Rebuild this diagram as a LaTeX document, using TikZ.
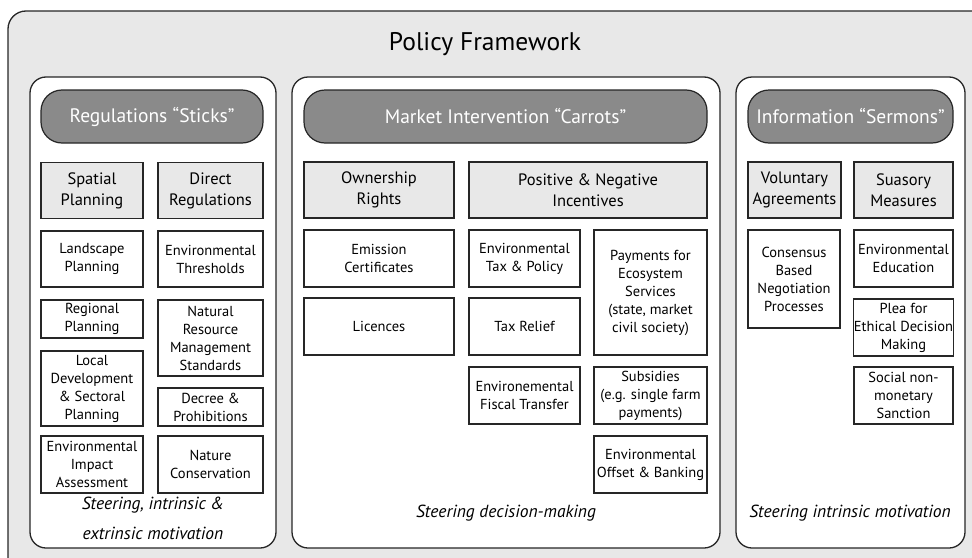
\documentclass[tikz,border=0pt]{standalone}
\usepackage{fontspec}
\setmainfont{PT Sans}

\tikzset{
  outer/.style={draw=black!85,line width=1.3pt,fill=black!9,rounded corners=18pt},
  panel/.style={draw=black!85,line width=1.3pt,fill=white,rounded corners=16pt},
  head/.style={draw=black!85,line width=1.2pt,fill=black!46,rounded corners=21pt,
    text=white,font=\fontsize{19.5}{22}\selectfont,minimum height=53pt,inner sep=0pt},
  sub/.style={draw=black!85,line width=1.1pt,fill=black!9,align=center,
    font=\fontsize{16.5}{21}\selectfont,inner sep=0pt,minimum height=56pt},
  leaf/.style={draw=black!85,line width=1.1pt,fill=white,align=center,
    font=\fontsize{14.5}{18}\selectfont,inner sep=0pt},
  note/.style={align=center,font=\itshape\fontsize{17.5}{30}\selectfont}
}

\begin{document}
\begin{tikzpicture}[x=1pt,y=-1pt]
\useasboundingbox (0,0) rectangle (972,557);
\clip (0,0) rectangle (972,557);
% frame and panels
\draw[outer] (8,11) rectangle (990,580);
\node[font=\fontsize{25.5}{30}\selectfont] (title) at (485,44) {Policy Framework};
\draw[panel] (30,77) rectangle (276,548);
\draw[panel] (292,77) rectangle (720,548);
\draw[panel] (736,77) rectangle (965,548);

% sticks
\node[head,minimum width=222pt] (sticks) at (152,116.5) {Regulations “Sticks”};
\node[sub,minimum width=102pt] (spatial) at (92,190.5) {Spatial\\Planning};
\node[sub,minimum width=105pt] (direct) at (210.5,190.5) {Direct\\Regulations};
\node[leaf,minimum width=102pt,minimum height=56pt] (landscape) at (92,259) {Landscape\\Planning};
\node[leaf,minimum width=102pt,minimum height=38pt] (regional) at (92,319) {Regional\\Planning};
\node[leaf,minimum width=102pt,minimum height=75pt] (local) at (92,388.5) {Local\\Development\\\& Sectoral\\Planning};
\node[leaf,minimum width=102pt,minimum height=57pt] (eia) at (92,464.5) {Environmental\\Impact\\Assessment};
\node[leaf,minimum width=105pt,minimum height=56pt] (thresh) at (210.5,259) {Environmental\\Thresholds};
\node[leaf,minimum width=105pt,minimum height=76pt] (nrm) at (210.5,338) {Natural\\Resource\\Management\\Standards};
\node[leaf,minimum width=105pt,minimum height=38pt] (decree) at (210.5,407) {Decree \&\\Prohibitions};
\node[leaf,minimum width=105pt,minimum height=57pt] (nature) at (210.5,464.5) {Nature\\Conservation};
\node[note] (stickstxt) at (153,518) {Steering, intrinsic \&\\extrinsic motivation};

% carrots
\node[head,minimum width=403pt] (carrots) at (505.5,116.5) {Market Intervention “Carrots”};
\node[sub,minimum width=150pt] (owner) at (379,190) {Ownership\\Rights};
\node[sub,minimum width=238pt] (posneg) at (588,190) {Positive \& Negative\\Incentives};
\node[leaf,minimum width=150pt,minimum height=57pt] (emission) at (379,258.5) {Emission\\Certificates};
\node[leaf,minimum width=150pt,minimum height=57pt] (licences) at (379,326.5) {Licences};
\node[leaf,minimum width=111pt,minimum height=57pt] (envtax) at (524.5,258.5) {Environmental\\Tax \& Policy};
\node[leaf,minimum width=111pt,minimum height=57pt] (relief) at (524.5,326.5) {Tax Relief};
\node[leaf,minimum width=111pt,minimum height=57pt] (fiscal) at (524.5,395.5) {Environemental\\Fiscal Transfer};
\node[leaf,minimum width=113pt,minimum height=125pt] (pes) at (650.5,292.5) {Payments for\\Ecosystem\\Services\\(state, market\\civil society)};
\node[leaf,minimum width=113pt,minimum height=57pt] (subsid) at (650.5,395.5) {Subsidies\\(e.g. single farm\\payments)};
\node[leaf,minimum width=113pt,minimum height=57pt] (offset) at (650.5,464.5) {Environmental\\Offset \& Banking};
\node[note] (carrotstxt) at (506,513) {Steering decision-making};

% sermons
\node[head,minimum width=205pt] (sermons) at (850.5,116.5) {Information “Sermons”};
\node[sub,minimum width=93pt] (volunt) at (794.5,190) {Voluntary\\Agreements};
\node[sub,minimum width=99pt] (suasory) at (903.5,190) {Suasory\\Measures};
\node[leaf,minimum width=92pt,minimum height=98pt] (consensus) at (794,279) {Consensus\\Based\\Negotiation\\Processes};
\node[leaf,minimum width=99pt,minimum height=57pt] (educ) at (903.5,258.5) {Environmental\\Education};
\node[leaf,minimum width=99pt,minimum height=57pt] (plea) at (903.5,327.5) {Plea for\\Ethical Decision\\Making};
\node[leaf,minimum width=99pt,minimum height=57pt] (social) at (903.5,395.5) {Social non-\\monetary\\Sanction};
\node[note] (sermonstxt) at (850,513) {Steering intrinsic motivation};
\end{tikzpicture}
\end{document}
